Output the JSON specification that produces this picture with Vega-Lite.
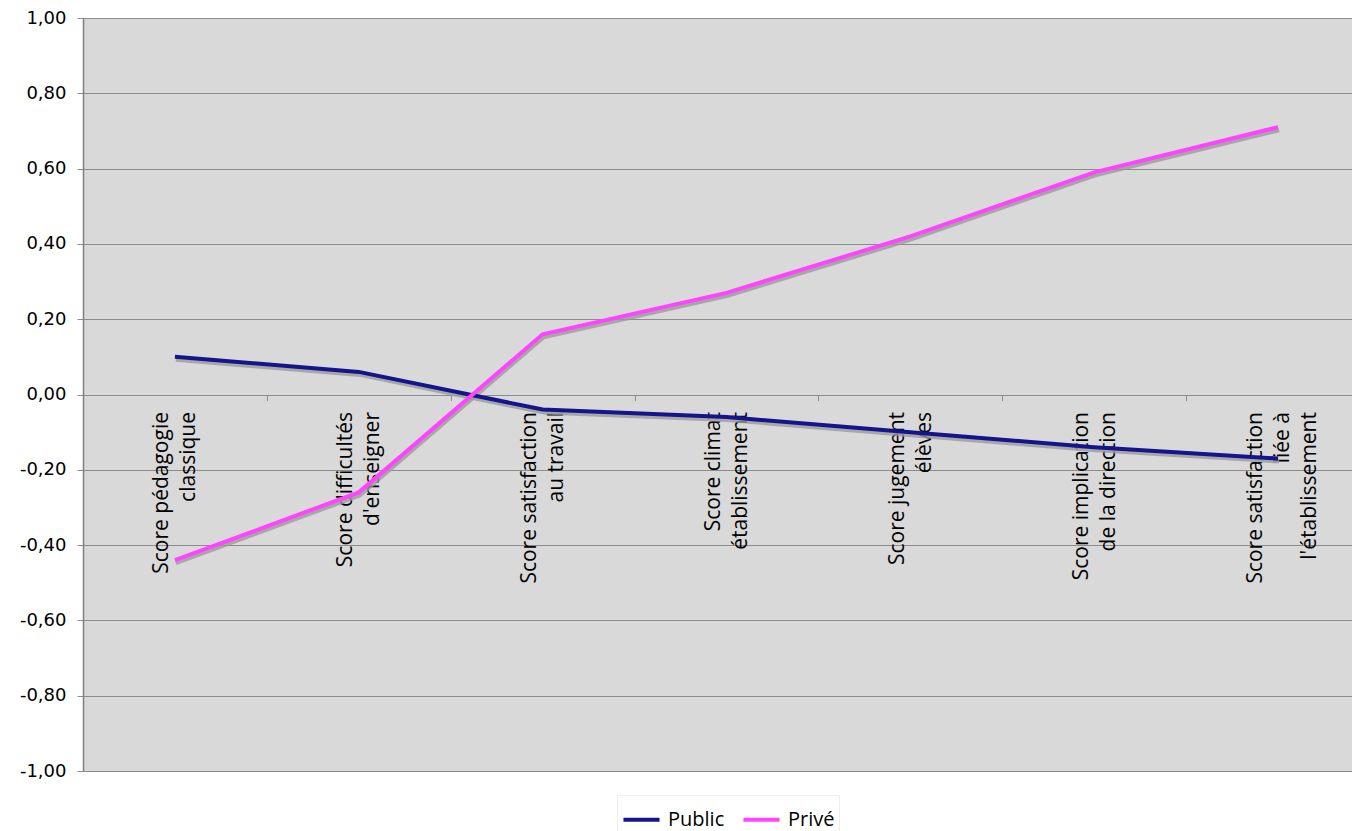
{
  "$schema": "https://vega.github.io/schema/vega-lite/v6.json",
  "width": 1269,
  "height": 753,
  "autosize": {"type": "none"},
  "padding": {"left": 83, "top": 18, "right": 0, "bottom": 60},
  "background": "#ffffff",
  "config": {
    "view": {"fill": "#d9d9d9", "stroke": null},
    "axis": {"gridColor": "#8c8c8c", "gridWidth": 1.2, "domainColor": "#8c8c8c", "tickColor": "#8c8c8c", "labelColor": "#000000"}
  },
  "data": {
    "values": [
      {"cat": "Score pédagogie classique", "order": 1, "serie": "Public", "score": 0.10},
      {"cat": "Score difficultés d'enseigner", "order": 2, "serie": "Public", "score": 0.06},
      {"cat": "Score satisfaction au travail", "order": 3, "serie": "Public", "score": -0.04},
      {"cat": "Score climat établissement", "order": 4, "serie": "Public", "score": -0.06},
      {"cat": "Score jugement élèves", "order": 5, "serie": "Public", "score": -0.10},
      {"cat": "Score implication de la direction", "order": 6, "serie": "Public", "score": -0.14},
      {"cat": "Score satisfaction liée à l'établissement", "order": 7, "serie": "Public", "score": -0.17},
      {"cat": "Score pédagogie classique", "order": 1, "serie": "Privé", "score": -0.44},
      {"cat": "Score difficultés d'enseigner", "order": 2, "serie": "Privé", "score": -0.26},
      {"cat": "Score satisfaction au travail", "order": 3, "serie": "Privé", "score": 0.16},
      {"cat": "Score climat établissement", "order": 4, "serie": "Privé", "score": 0.27},
      {"cat": "Score jugement élèves", "order": 5, "serie": "Privé", "score": 0.42},
      {"cat": "Score implication de la direction", "order": 6, "serie": "Privé", "score": 0.59},
      {"cat": "Score satisfaction liée à l'établissement", "order": 7, "serie": "Privé", "score": 0.71}
    ]
  },
  "encoding": {
    "x": {
      "field": "cat", "type": "nominal", "sort": {"field": "order"},
      "scale": {"type": "band", "paddingInner": 0, "paddingOuter": 0, "range": [0, 1287]},
      "axis": {
        "title": null, "orient": "bottom", "offset": -376.5, "domain": false,
        "tickBand": "extent", "tickSize": 6, "tickColor": "#8c8c8c",
        "labelAngle": -90, "labelAlign": "right", "labelBaseline": "middle",
        "labelPadding": 11, "labelFont": "Open Sans", "labelFontSize": 21, "labelLineHeight": 27,
        "labelOffset": {"condition": {"test": "datum.value === 'Score satisfaction liée à l\\'établissement'", "value": -23}, "value": -13},
        "labelOverlap": false, "labelLimit": 400, "labelBound": false, "labelFlush": false,
        "grid": false,
        "labelExpr": "{'Score pédagogie classique': ['Score pédagogie', 'classique'], 'Score difficultés d\\'enseigner': ['Score difficultés', 'd\\'enseigner'], 'Score satisfaction au travail': ['Score satisfaction', 'au travail'], 'Score climat établissement': ['Score climat', 'établissement'], 'Score jugement élèves': ['Score jugement', 'élèves'], 'Score implication de la direction': ['Score implication', 'de la direction'], 'Score satisfaction liée à l\\'établissement': ['Score satisfaction', 'liée à', 'l\\'établissement']}[datum.label]"
      }
    },
    "y": {
      "field": "score", "type": "quantitative",
      "scale": {"domain": [-1, 1], "nice": false, "zero": false},
      "axis": {
        "title": null, "values": [-1, -0.8, -0.6, -0.4, -0.2, 0, 0.2, 0.4, 0.6, 0.8, 1],
        "tickSize": 6, "labelPadding": 11, "labelFont": "DejaVu Sans", "labelFontSize": 18,
        "domainColor": "#808080", "domainWidth": 1.5,
        "labelExpr": "replace(replace(format(datum.value, '.2f'), '.', ','), '−', '-')"
      }
    }
  },
  "layer": [
    {
      "mark": {"type": "line", "strokeWidth": 4, "color": "#9a9a9a", "yOffset": 3, "xOffset": 1, "opacity": 0.8},
      "encoding": {"detail": {"field": "serie"}}
    },
    {
      "mark": {"type": "line", "strokeWidth": 4},
      "encoding": {
        "color": {
          "field": "serie", "type": "nominal",
          "scale": {"domain": ["Public", "Privé"], "range": ["#14148c", "#ff44ff"]},
          "legend": {
            "title": null, "orient": "none", "direction": "horizontal",
            "legendX": 534, "legendY": 777,
            "symbolType": "stroke", "symbolStrokeWidth": 4, "symbolSize": 1300,
            "labelFont": "Open Sans", "labelFontSize": 20, "labelColor": "#000000", "labelOffset": 6,
            "columnPadding": 10, "strokeColor": "#eeeeee", "padding": 4
          }
        }
      }
    }
  ]
}
